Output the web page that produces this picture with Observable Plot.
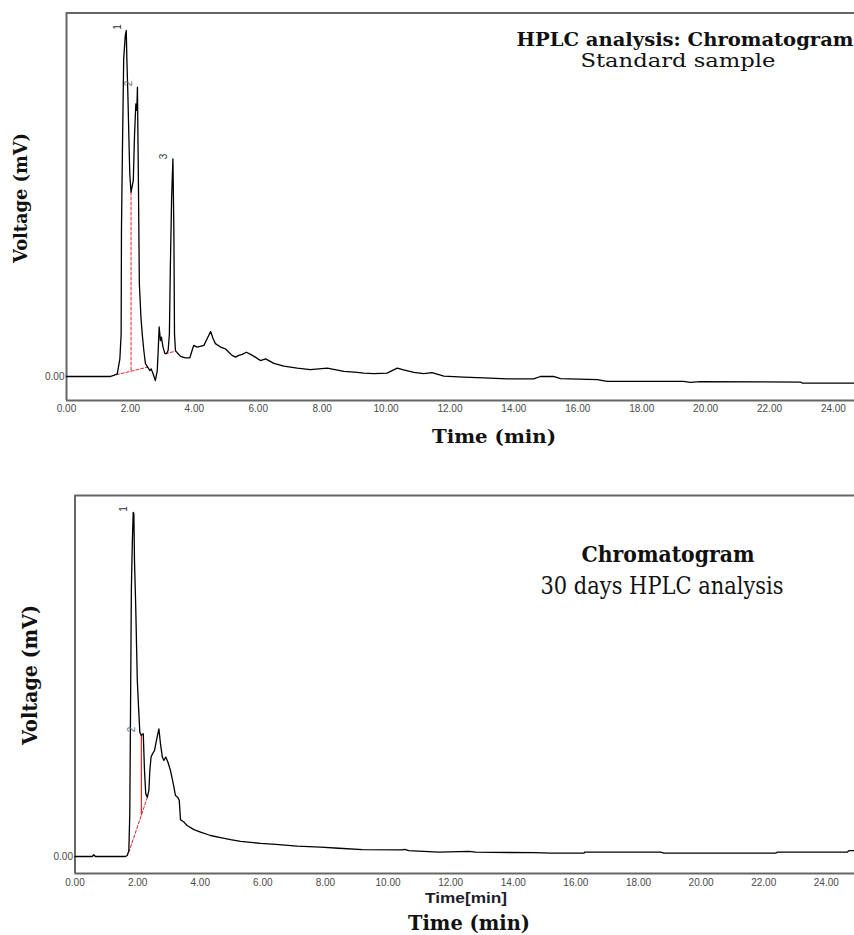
<!DOCTYPE html>
<html>
<head>
<meta charset="utf-8">
<script src="https://cdn.jsdelivr.net/npm/d3@7"></script>
<script src="https://cdn.jsdelivr.net/npm/@observablehq/plot@0.6"></script>
<style>
  html, body { margin: 0; padding: 0; background: #fff; }
  #wrap { position: relative; width: 854px; height: 935px; overflow: hidden; }
  .plot { position: absolute; left: 0; }
  #labels { position: absolute; left: 0; top: 0; }
</style>
</head>
<body>
<div id="wrap">
  <div id="p1" class="plot" style="top:0px"></div>
  <div id="p2" class="plot" style="top:480px"></div>
  <svg id="labels" width="854" height="935"></svg>
</div>
<script>
// ---------- Data: standard sample (top) ----------
const topTime = [0, 1.38, 1.48, 1.59, 1.67, 1.71, 1.72, 1.75, 1.79, 1.84, 1.87, 1.89, 1.92, 1.95, 1.98, 2.02, 2.09, 2.13, 2.17, 2.20, 2.22, 2.25, 2.28, 2.33, 2.37, 2.42, 2.47, 2.54, 2.61, 2.65, 2.71, 2.78, 2.84, 2.87, 2.90, 2.94, 2.97, 3.02, 3.08, 3.13, 3.18, 3.22, 3.25, 3.29, 3.33, 3.36, 3.38, 3.41, 3.48, 3.57, 3.72, 3.86, 3.93, 3.98, 4.09, 4.30, 4.40, 4.51, 4.59, 4.66, 4.82, 4.97, 5.08, 5.18, 5.29, 5.39, 5.50, 5.63, 5.76, 5.91, 6.07, 6.23, 6.49, 6.80, 7.22, 7.63, 8.16, 8.68, 9.10, 9.30, 9.62, 10.03, 10.19, 10.35, 10.55, 10.87, 11.18, 11.44, 11.81, 12.43, 13.06, 13.79, 14.62, 14.83, 15.24, 15.46, 16.61, 16.92, 19.31, 19.52, 19.84, 22.97, 23.02, 24.66];
const topMv   = [0, 0, 0.3, 0.8, 5.1, 12.3, 42.2, 65.3, 91.8, 98.6, 100, 91.3, 81.7, 70.1, 58.6, 53.3, 56.6, 70.1, 78.8, 76.9, 83.6, 56.6, 26.8, 17.1, 12.3, 7.5, 3.7, 2.7, 1.7, 2.2, 0.8, -1.2, 1.7, 7.5, 14.3, 10.4, 11.4, 8.5, 6.6, 6.6, 7.5, 12.3, 31.6, 51.8, 62.9, 42.2, 12.3, 7.5, 6.7, 5.8, 5.4, 5.4, 7.5, 9.0, 8.5, 9.0, 10.9, 13.0, 10.9, 9.5, 8.5, 8.0, 7.0, 6.1, 5.6, 6.1, 6.4, 7.0, 6.4, 5.6, 4.6, 5.1, 3.8, 3.0, 2.4, 2.0, 2.4, 1.5, 1.2, 0.95, 0.8, 0.95, 1.7, 2.4, 1.9, 1.2, 0.8, 1.1, 0.1, -0.2, -0.4, -0.7, -0.7, 0, 0, -0.6, -0.9, -1.4, -1.4, -1.7, -1.5, -1.6, -1.9, -1.9];
// integration baselines (red)
const topBaseSeg = ["a", "a", "b", "b", "c", "c"];
const topBaseTime = [1.56, 2.54, 2.02, 2.02, 3.10, 3.41];
const topBaseMv   = [0.5, 2.7, 53.3, 1.4, 6.6, 7.3];
// peak labels
const topPeakName = ["1", "2", "3"];
const topPeakTime = [1.60, 1.94, 3.04];
const topPeakMv   = [101, 84.7, 63.6];

// ---------- Data: 30 days (bottom) ----------
const botTime = [0, 0.55, 0.6, 0.65, 1.61, 1.67, 1.72, 1.75, 1.77, 1.80, 1.83, 1.86, 1.88, 1.90, 1.94, 1.99, 2.03, 2.07, 2.12, 2.18, 2.22, 2.26, 2.31, 2.36, 2.39, 2.43, 2.48, 2.54, 2.60, 2.68, 2.73, 2.79, 2.84, 2.90, 2.97, 3.05, 3.14, 3.21, 3.28, 3.33, 3.37, 3.48, 3.58, 3.80, 4.01, 4.33, 4.65, 4.97, 5.29, 5.61, 5.93, 6.41, 7.10, 7.84, 8.43, 9.18, 10.45, 10.53, 10.66, 11.62, 12.58, 12.80, 14.66, 15.19, 16.26, 16.28, 18.71, 18.81, 22.38, 22.43, 24.67, 24.72, 24.90];
const botMv   = [0, 0, 0.5, 0, 0, 0.3, 1.7, 12.4, 37.6, 77.3, 90.9, 100, 99.6, 86, 72.5, 51.2, 43.4, 36.1, 35.2, 35.7, 25, 18.2, 17.2, 19.2, 25, 28.9, 29.9, 30.8, 33.7, 37.1, 32.8, 28.9, 27.9, 28.9, 27.4, 25, 21.1, 17.7, 17.2, 16.3, 10.7, 10, 9.0, 7.8, 7.1, 6.1, 5.5, 4.9, 4.4, 4.1, 3.8, 3.5, 3.0, 2.7, 2.4, 2.0, 1.9, 2.1, 1.7, 1.25, 1.5, 1.25, 1.1, 1.0, 1.0, 1.25, 1.25, 1.0, 1.0, 1.25, 1.25, 1.7, 1.7];
const botDashTime = [1.72, 2.33];
const botDashMv   = [1.25, 17.7];
const botDropTime = [2.12, 2.12];
const botDropMv   = [35.2, 12.1];
const botPeakName = ["1", "2"];
const botPeakTime = [1.55, 1.83];
const botPeakMv   = [101, 36.9];

const xTicks = [0, 2, 4, 6, 8, 10, 12, 14, 16, 18, 20, 22, 24];
const yTicks = [0];

// Texts
const titleTop = "HPLC analysis: Chromatogram";
const subtitleTop = "Standard sample";
const titleBot = "Chromatogram";
const subtitleBot = "30 days HPLC analysis";
const yLabel = "Voltage (mV)";
const xLabel = "Time (min)";
const xLabelInstrument = "Time[min]";

const fmt = d => d.toFixed(2);
const zip = (xs, ys, extra) => xs.map((x, i) => Object.assign({x, y: ys[i]}, extra ? extra(i) : {}));

const topData = zip(topTime, topMv);
const topBase = zip(topBaseTime, topBaseMv, i => ({seg: topBaseSeg[i]}));
const topPeaks = zip(topPeakTime, topPeakMv, i => ({name: topPeakName[i]}));
const botData = zip(botTime, botMv);
const botDash = zip(botDashTime, botDashMv);
const botDrop = zip(botDropTime, botDropMv);
const botPeaks = zip(botPeakTime, botPeakMv, i => ({name: botPeakName[i]}));

const sans = "'Liberation Sans', Arial, sans-serif";
const axisStyle = {fontFamily: sans, fontSize: "10px", color: "#4a4a4a", background: "transparent", overflow: "visible"};

// Top chart
const y1 = [-6.94, 105.06];
const p1 = Plot.plot({
  width: 854, height: 420,
  marginLeft: 66, marginRight: 0, marginTop: 12.5, marginBottom: 20,
  x: {domain: [0, 24.66], ticks: xTicks, tickFormat: fmt, tickSize: 0, tickPadding: 4, label: null},
  y: {domain: y1, ticks: yTicks, tickFormat: fmt, tickSize: 0, tickPadding: 2, label: null},
  style: axisStyle,
  marks: [
    Plot.ruleY([y1[0]], {stroke: "#666", strokeWidth: 2}),
    Plot.ruleY([y1[1]], {stroke: "#666", strokeWidth: 2}),
    Plot.ruleX([0], {stroke: "#666", strokeWidth: 2}),
    Plot.line(topBase, {x: "x", y: "y", z: "seg", stroke: "#e8202a", strokeWidth: 1, strokeDasharray: "3,2"}),
    Plot.line(topData, {x: "x", y: "y", stroke: "#000", strokeWidth: 1.3}),
    Plot.text(topPeaks, {x: "x", y: "y", text: "name", rotate: -90, fontSize: 10, fill: (d) => d.name === "2" ? "#6b7480" : "#333", fontFamily: sans})
  ]
});
document.getElementById("p1").appendChild(p1);

// Bottom chart
const y2 = [-4.94, 104.9];
const p2 = Plot.plot({
  width: 854, height: 420,
  marginLeft: 74.5, marginRight: 0, marginTop: 15, marginBottom: 27,
  x: {domain: [0, 24.9], ticks: xTicks, tickFormat: fmt, tickSize: 0, tickPadding: 5, label: null},
  y: {domain: y2, ticks: yTicks, tickFormat: fmt, tickSize: 0, tickPadding: 2, label: null},
  style: axisStyle,
  marks: [
    Plot.ruleY([y2[0]], {stroke: "#666", strokeWidth: 2}),
    Plot.ruleY([y2[1]], {stroke: "#666", strokeWidth: 2}),
    Plot.ruleX([0], {stroke: "#666", strokeWidth: 2}),
    Plot.line(botDash, {x: "x", y: "y", stroke: "#e8202a", strokeWidth: 1, strokeDasharray: "3,2"}),
    Plot.line(botDrop, {x: "x", y: "y", stroke: "#e8202a", strokeWidth: 1.2}),
    Plot.line(botData, {x: "x", y: "y", stroke: "#000", strokeWidth: 1.3}),
    Plot.text(botPeaks, {x: "x", y: "y", text: "name", rotate: -90, fontSize: 10, fill: (d) => d.name === "2" ? "#6b7480" : "#333", fontFamily: sans})
  ]
});
document.getElementById("p2").appendChild(p2);

// Overlay texts: size from the reference cap height, stretched to the reference width
const serif = "'DejaVu Serif', 'Liberation Serif', serif";
const labelSpecs = [
  {text: titleTop, x: 685, y: 45.5, w: 337, size: 18, bold: true, font: serif},
  {text: subtitleTop, x: 678, y: 67, w: 195, size: 18, bold: false, font: serif},
  {text: yLabel, x: 27, y: 198, w: 130, size: 19, bold: true, font: serif, rot: true},
  {text: xLabel, x: 494, y: 443, w: 124, size: 19, bold: true, font: serif},
  {text: titleBot, x: 668, y: 562, w: 173, size: 21.5, bold: true, font: serif},
  {text: subtitleBot, x: 662, y: 594, w: 243, size: 23.5, bold: false, font: serif},
  {text: yLabel, x: 37, y: 675, w: 140, size: 21, bold: true, font: serif, rot: true},
  {text: xLabelInstrument, x: 466, y: 903, w: 82, size: 14, bold: true, font: sans, fill: "#1d1d2b"},
  {text: xLabel, x: 469, y: 930, w: 122, size: 20.5, bold: true, font: serif}
];
const svg = d3.select("#labels");
for (const s of labelSpecs) {
  const t = svg.append("text")
    .attr("text-anchor", "middle")
    .attr("font-family", s.font)
    .attr("font-weight", s.bold ? "bold" : "normal")
    .attr("font-size", s.size)
    .attr("fill", s.fill || "#111")
    .attr("textLength", s.w)
    .attr("lengthAdjust", "spacingAndGlyphs")
    .text(s.text);
  if (s.rot) t.attr("transform", `translate(${s.x},${s.y}) rotate(-90)`);
  else t.attr("x", s.x).attr("y", s.y);
}
</script>
</body>
</html>
